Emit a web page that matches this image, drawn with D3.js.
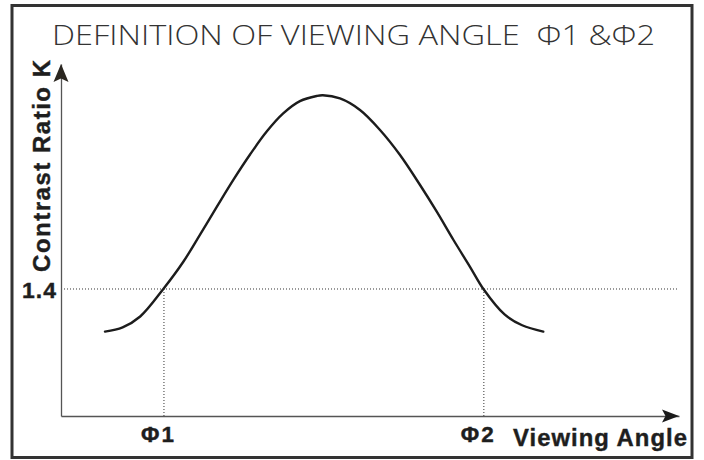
<!DOCTYPE html>
<html>
<head>
<meta charset="utf-8">
<script src="https://cdn.jsdelivr.net/npm/d3@7"></script>
<style>
  html, body { margin: 0; padding: 0; background: #ffffff; }
  svg { display: block; }
  text { white-space: pre; }
</style>
</head>
<body>
<svg id="chart" width="704" height="460"></svg>
<script>
// ---- data ----
const titleText = "DEFINITION OF VIEWING ANGLE  \u03A61 &\u03A62";
const yAxisLabel = "Contrast Ratio K";
const xAxisLabel = "Viewing Angle";
// viewing angle (arbitrary degrees, 0 = normal) and contrast ratio K
const angles   = [-50, -46, -42, -36.75, -32.2, -28.4, -24.6, -20.8, -17.0, -13.25, -9.5, -5.7, -1.9, -0.5, 3.4, 7.95, 12.5, 17.05, 21.6, 25.4, 29.2, 32.95, 36.0, 40.8, 44.8, 49.6];
const contrast = [0.93, 0.977, 1.097, 1.40, 1.70, 2.00, 2.305, 2.605, 2.885, 3.135, 3.335, 3.47, 3.527, 3.535, 3.50, 3.373, 3.153, 2.877, 2.546, 2.252, 1.94, 1.645, 1.40, 1.12, 1.00, 0.93];
const thresholdK = [1.4];
const thresholdLabels = ["1.4"];
const phiAngles = [-36.6, 36.1];
const phiLabels = ["\u03A61", "\u03A62"];

// ---- layout ----
const svg = d3.select("#chart");
const x = d3.scaleLinear().domain([-60, 80.45]).range([61, 679]);
const y = d3.scaleLinear().domain([0, 3.88]).range([416, 64]);
const xRefEnd = 80;
const labelFont = "'Liberation Sans', Arial, sans-serif";
const ink = "#1e1e1e";

// frame
svg.append("rect")
  .attr("x", 12).attr("y", 5.5).attr("width", 680).attr("height", 452)
  .attr("fill", "none").attr("stroke", "#333").attr("stroke-width", 3);

// title
svg.append("text")
  .attr("x", 52).attr("y", 44.5)
  .attr("font-family", "'Open Sans', Lato, sans-serif")
  .attr("font-weight", 300)
  .attr("font-size", 27)
  .attr("fill", "#333")
  .attr("textLength", 603)
  .attr("lengthAdjust", "spacingAndGlyphs")
  .text(titleText);

// dotted reference lines
const ref = svg.append("g").attr("stroke", "#333").attr("stroke-width", 1)
  .attr("stroke-dasharray", "1,2").attr("fill", "none");
thresholdK.forEach(k => {
  ref.append("line")
    .attr("x1", x(-60)).attr("x2", x(xRefEnd))
    .attr("y1", y(k)).attr("y2", y(k));
});
phiAngles.forEach(a => {
  ref.append("line")
    .attr("x1", x(a)).attr("x2", x(a))
    .attr("y1", y(0)).attr("y2", y(thresholdK[0]));
});

// axes
const yAxis = d3.axisLeft(y)
  .tickValues(thresholdK)
  .tickFormat((d, i) => thresholdLabels[i])
  .tickSize(0).tickSizeOuter(0).tickPadding(4);
const gy = svg.append("g").attr("transform", `translate(${x(-60)},0)`).call(yAxis);
gy.select(".domain").attr("stroke", "#555").attr("stroke-width", 1.3);
gy.selectAll(".tick text")
  .attr("font-family", labelFont).attr("font-weight", "bold")
  .attr("font-size", 22).attr("fill", ink)
  .attr("stroke", ink).attr("stroke-width", 0.4)
  .attr("letter-spacing", 1)
  .attr("textLength", 35).attr("lengthAdjust", "spacingAndGlyphs")
  .attr("dy", 9);

const xAxis = d3.axisBottom(x)
  .tickValues(phiAngles)
  .tickFormat((d, i) => phiLabels[i])
  .tickSize(0).tickSizeOuter(0).tickPadding(0);
const gx = svg.append("g").attr("transform", `translate(0,${y(0)})`).call(xAxis);
gx.select(".domain").attr("stroke", "#555").attr("stroke-width", 1.3);
gx.selectAll(".tick text")
  .attr("font-family", labelFont).attr("font-weight", "bold")
  .attr("font-size", 22).attr("fill", ink)
  .attr("stroke", ink).attr("stroke-width", 0.4)
  .attr("letter-spacing", 2)
  .attr("textLength", 35).attr("lengthAdjust", "spacingAndGlyphs")
  .attr("text-anchor", "middle")
  .attr("y", 0)
  .attr("dx", -6)
  .attr("dy", 25.5);

// arrow heads
const yTop = y.range()[1], xEnd = x.range()[1];
svg.append("path")
  .attr("d", `M${x(-60)},${yTop} L${x(-60) + 7.5},${yTop + 18} L${x(-60)},${yTop + 14.5} L${x(-60) - 7.5},${yTop + 18} Z`)
  .attr("fill", "#2a2620");
svg.append("path")
  .attr("d", `M${xEnd},${y(0)} L${xEnd - 17},${y(0) - 6.5} L${xEnd - 13.5},${y(0)} L${xEnd - 17},${y(0) + 6.5} Z`)
  .attr("fill", "#1a1a1a");

// axis titles
svg.append("text")
  .attr("transform", `translate(50,${y(2.756)}) rotate(-90)`)
  .attr("text-anchor", "middle")
  .attr("font-family", labelFont).attr("font-weight", "bold")
  .attr("font-size", 24).attr("fill", ink)
  .attr("stroke", ink).attr("stroke-width", 0.4)
  .attr("textLength", 212).attr("lengthAdjust", "spacing")
  .text(yAxisLabel);

svg.append("text")
  .attr("x", 513).attr("y", 445.5)
  .attr("font-family", labelFont).attr("font-weight", "bold")
  .attr("font-size", 23).attr("fill", ink)
  .attr("stroke", ink).attr("stroke-width", 0.4)
  .attr("letter-spacing", 1)
  .attr("textLength", 175).attr("lengthAdjust", "spacingAndGlyphs")
  .text(xAxisLabel);

// the curve
const pts = angles.map((a, i) => [a, contrast[i]]);
const line = d3.line().x(d => x(d[0])).y(d => y(d[1])).curve(d3.curveCatmullRom.alpha(0.5));
svg.append("path")
  .datum(pts)
  .attr("d", line)
  .attr("fill", "none")
  .attr("stroke", "#1c1c1c")
  .attr("stroke-width", 2.4)
  .attr("stroke-linecap", "round");
</script>
</body>
</html>
